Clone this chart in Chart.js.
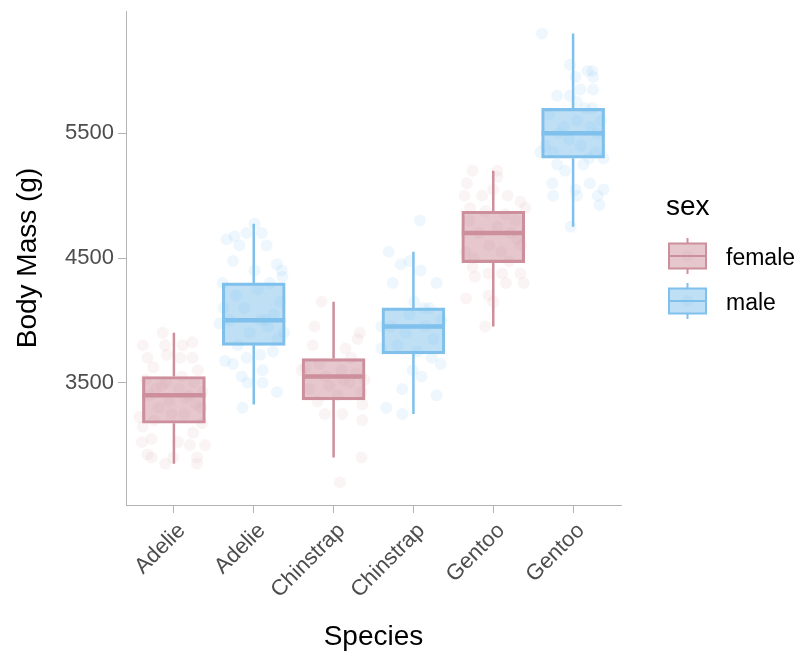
<!DOCTYPE html>
<html>
<head>
<meta charset="utf-8">
<script src="https://cdn.jsdelivr.net/npm/chart.js@4.4.1/dist/chart.umd.min.js"></script>
<style>
  body { margin: 0; background: #fff; }
  #wrap { width: 798px; height: 654px; }
</style>
</head>
<body>
<div id="wrap"><canvas id="massChart" width="798" height="654"></canvas></div>
<script>
// species / sex groups, left to right
var categories = ['Adelie', 'Adelie', 'Chinstrap', 'Chinstrap', 'Gentoo', 'Gentoo'];
var groupSex = ['female', 'male', 'female', 'male', 'female', 'male'];
var sexLabels = ['female', 'male'];

// box statistics (g)
var lowerWhisker = [2850, 3325, 2900, 3250, 3950, 4750];
var q1 = [3175, 3800, 3362.5, 3731.25, 4462.5, 5300];
var median = [3400, 4000, 3550, 3950, 4700, 5500];
var q3 = [3550, 4300, 3693.75, 4100, 4875, 5700];
var upperWhisker = [3900, 4775, 4150, 4550, 5200, 6300];

var yTicks = [3500, 4500, 5500];

// individual penguins (g) and their horizontal jitter
var adelieFemaleMass = [3800, 3900, 3825, 3800, 3800, 3700, 3725, 3700, 3625, 3600, 3700, 3150, 3050, 3025, 3025, 3000, 3000, 2925, 2900, 2850, 2900, 2900, 2850, 3100, 3425, 3225, 3175,
  3200, 3250, 3300, 3325, 3350, 3400, 3400, 3450, 3475, 3500, 3525, 3550, 3300, 3450, 3250, 3375, 3500];
var adelieFemaleJitter = [-0.39, -0.14, 0.23, 0.11, -0.11, -0.33, -0.09, 0.23, -0.26, 0.30, 0.08, -0.39, -0.28, -0.40, 0.05, 0.20, 0.39, -0.33, -0.28, -0.11, -0.01, 0.29, 0.29, 0.24, 0.36, -0.43, 0.35,
  -0.25, 0.13, -0.19, 0.28, -0.06, 0.19, -0.31, 0.06, -0.15, 0.25, -0.35, 0.10, 0.34, -0.23, -0.03, 0.15, -0.10];

var adelieMaleMass = [4775, 4650, 4675, 4700, 4700, 4600, 4600, 4475, 4450, 4400, 4350, 4400, 4300, 3675, 3650, 3700, 3550, 3600, 3500, 3500, 3425, 3300, 3975, 3750, 3725,
  3800, 3850, 3900, 3950, 4000, 4000, 4050, 4100, 4150, 4200, 4250, 4300, 3900, 4100, 4000];
var adelieMaleJitter = [0.01, -0.34, -0.24, -0.09, 0.10, -0.18, 0.16, -0.26, 0.29, 0.35, 0.36, 0.01, -0.39, -0.36, -0.26, -0.09, -0.15, 0.11, -0.08, 0.11, 0.29, -0.14, -0.43, 0.24, 0.08,
  -0.20, 0.30, -0.05, 0.18, -0.30, 0.08, 0.25, -0.12, 0.33, -0.22, 0.05, 0.20, 0.38, -0.38, 0.15];

var chinstrapFemaleMass = [4150, 3950, 3900, 3850, 3800, 3775, 3600, 3525, 3425, 3325, 3250, 3250, 3200, 2900, 2700, 3350,
  3400, 3450, 3500, 3550, 3575, 3600, 3650, 3700, 3475, 3525, 3625];
var chinstrapFemaleJitter = [-0.15, -0.24, 0.33, 0.30, -0.26, 0.15, -0.40, 0.39, 0.35, 0.36, -0.11, 0.11, 0.36, 0.35, 0.08, -0.20,
  0.05, -0.30, 0.20, -0.10, 0.28, 0.10, -0.18, 0.22, -0.05, 0.12, -0.35];

var chinstrapMaleMass = [4800, 4550, 4450, 4475, 4400, 4300, 4300, 4150, 4100, 3650, 3600, 3550, 3450, 3400, 3300, 3250, 3700, 3950, 3775,
  3750, 3800, 3850, 3900, 3950, 3950, 4000, 4050, 4100];
var chinstrapMaleJitter = [0.08, -0.31, -0.16, -0.05, 0.09, -0.26, 0.29, 0.01, 0.13, 0.34, -0.01, 0.10, -0.14, 0.29, -0.34, -0.14, 0.23, -0.40, -0.40,
  0.05, -0.20, 0.25, -0.10, 0.15, -0.28, 0.35, -0.05, 0.20];

var gentooFemaleMass = [5200, 5200, 5150, 5100, 5050, 5000, 5000, 5000, 4950, 4900, 4900, 4425, 4350, 4375, 4375, 4375, 4300, 4300, 4175, 4200, 4150, 3950,
  4475, 4500, 4550, 4600, 4650, 4700, 4700, 4750, 4800, 4850, 4875, 4600, 4800, 4550];
var gentooFemaleJitter = [-0.26, 0.05, 0.05, -0.33, 0.00, -0.36, -0.14, 0.18, 0.34, 0.40, -0.29, -0.26, -0.23, -0.06, 0.11, 0.34, 0.16, 0.38, -0.34, -0.06, 0.00, -0.10,
  0.20, -0.25, 0.10, -0.05, 0.30, -0.18, 0.22, 0.05, -0.30, 0.15, -0.10, 0.35, 0.28, -0.35];

var gentooMaleMass = [6300, 6050, 6000, 6000, 5950, 5950, 5850, 5850, 5800, 5800, 5750, 5700, 5100, 5000, 5050, 5000, 5100, 5050, 5000, 4925, 4750, 5250, 5200, 5300, 5350, 5250,
  5300, 5350, 5400, 5450, 5500, 5500, 5550, 5600, 5650, 5700, 5400, 5600, 5350, 5550];
var gentooMaleJitter = [-0.39, -0.04, 0.18, 0.24, 0.03, 0.25, 0.09, 0.25, -0.20, -0.04, 0.05, 0.24, -0.26, -0.25, 0.03, 0.05, 0.21, 0.38, 0.31, 0.33, -0.03, -0.20, -0.10, 0.38, -0.41, 0.13,
  0.20, -0.25, 0.10, -0.05, 0.30, -0.18, 0.22, 0.05, -0.30, 0.15, -0.35, 0.35, 0.28, -0.12];

var massByGroup = [adelieFemaleMass, adelieMaleMass, chinstrapFemaleMass, chinstrapMaleMass, gentooFemaleMass, gentooMaleMass];
var jitterByGroup = [adelieFemaleJitter, adelieMaleJitter, chinstrapFemaleJitter, chinstrapMaleJitter, gentooFemaleJitter, gentooMaleJitter];

var sexColors = {
    female: { line: 'rgb(205, 143, 156)', fill: 'rgba(205, 143, 156, 0.5)', point: 'rgba(205, 143, 156, 0.1)' },
    male: { line: 'rgb(127, 192, 236)', fill: 'rgba(127, 192, 236, 0.5)', point: 'rgba(127, 192, 236, 0.13)' }
};

var FONT = "'Liberation Sans', Arial, sans-serif";

function boxData(sex) {
    var out = [];
    categories.forEach(function(c, g) {
        if (groupSex[g] === sex) out.push({ x: g + 1, y: [q1[g], q3[g]], group: g });
    });
    return out;
}

function pointData(sex) {
    var out = [];
    massByGroup.forEach(function(masses, g) {
        if (groupSex[g] !== sex) return;
        masses.forEach(function(m, i) {
            out.push({ x: g + 1 + jitterByGroup[g][i], y: m });
        });
    });
    return out;
}

// whiskers and median bars on top of the floating bars
var boxExtras = {
    id: 'boxExtras',
    afterDatasetsDraw: function(chart) {
        var ctx = chart.ctx;
        var yScale = chart.scales.y;
        chart.data.datasets.forEach(function(ds, di) {
            if (ds.type !== 'bar') return;
            var meta = chart.getDatasetMeta(di);
            meta.data.forEach(function(bar, i) {
                var g = ds.data[i].group;
                var col = sexColors[groupSex[g]].line;
                ctx.save();
                ctx.strokeStyle = col;
                ctx.lineCap = 'butt';
                ctx.lineWidth = 2.5;
                ctx.beginPath();
                ctx.moveTo(bar.x, yScale.getPixelForValue(q3[g]));
                ctx.lineTo(bar.x, yScale.getPixelForValue(upperWhisker[g]));
                ctx.moveTo(bar.x, yScale.getPixelForValue(q1[g]));
                ctx.lineTo(bar.x, yScale.getPixelForValue(lowerWhisker[g]));
                ctx.stroke();
                ctx.lineWidth = 4.5;
                ctx.beginPath();
                var ym = yScale.getPixelForValue(median[g]);
                ctx.moveTo(bar.x - bar.width / 2, ym);
                ctx.lineTo(bar.x + bar.width / 2, ym);
                ctx.stroke();
                ctx.restore();
            });
        });
    }
};

// legend with small box glyphs to the right of the plot
var boxLegend = {
    id: 'boxLegend',
    afterDraw: function(chart) {
        var ctx = chart.ctx;
        ctx.save();
        ctx.fillStyle = '#000';
        ctx.textBaseline = 'alphabetic';
        ctx.font = '28px ' + FONT;
        ctx.fillText('sex', 666, 215);
        sexLabels.forEach(function(sex, i) {
            var cy = 256 + i * 45;
            var c = sexColors[sex];
            var left = 669, w = 37, h = 25;
            ctx.fillStyle = c.point;
            ctx.beginPath();
            ctx.arc(left + w / 2, cy, 6, 0, Math.PI * 2);
            ctx.fill();
            ctx.fillStyle = c.fill;
            ctx.fillRect(left, cy - h / 2, w, h);
            ctx.strokeStyle = c.line;
            ctx.lineWidth = 2;
            ctx.strokeRect(left, cy - h / 2, w, h);
            ctx.beginPath();
            ctx.moveTo(left + w / 2, cy - h / 2);
            ctx.lineTo(left + w / 2, cy - 18);
            ctx.moveTo(left + w / 2, cy + h / 2);
            ctx.lineTo(left + w / 2, cy + 18);
            ctx.moveTo(left, cy);
            ctx.lineTo(left + w, cy);
            ctx.stroke();
            ctx.fillStyle = '#000';
            ctx.font = '23px ' + FONT;
            ctx.fillText(sex, 726, cy + 9);
        });
        ctx.restore();
    }
};

var ctx = document.getElementById('massChart').getContext('2d');

new Chart(ctx, {
    type: 'bar',
    data: {
        datasets: [{
            type: 'scatter',
            data: pointData('female'),
            pointRadius: 6,
            pointHoverRadius: 6,
            pointBorderWidth: 0,
            pointBackgroundColor: sexColors.female.point,
            order: 1
        }, {
            type: 'scatter',
            data: pointData('male'),
            pointRadius: 6,
            pointHoverRadius: 6,
            pointBorderWidth: 0,
            pointBackgroundColor: sexColors.male.point,
            order: 1
        }, {
            type: 'bar',
            data: boxData('female'),
            backgroundColor: sexColors.female.fill,
            borderColor: sexColors.female.line,
            borderWidth: 2.5,
            borderSkipped: false,
            barThickness: 63,
            grouped: false,
            order: 2
        }, {
            type: 'bar',
            data: boxData('male'),
            backgroundColor: sexColors.male.fill,
            borderColor: sexColors.male.line,
            borderWidth: 2.5,
            borderSkipped: false,
            barThickness: 63,
            grouped: false,
            order: 2
        }]
    },
    options: {
        responsive: false,
        animation: false,
        devicePixelRatio: 1,
        layout: { padding: { top: 11, right: 177, left: 0, bottom: 0 } },
        plugins: {
            legend: { display: false },
            tooltip: { enabled: false }
        },
        scales: {
            x: {
                type: 'linear',
                offset: false,
                min: 0.4,
                max: 6.6,
                afterBuildTicks: function(scale) {
                    scale.ticks = categories.map(function(c, i) { return { value: i + 1 }; });
                },
                afterFit: function(scale) {
                    scale.height = 149;
                    scale.paddingLeft = 0;
                    scale.paddingRight = 0;
                },
                ticks: {
                    autoSkip: false,
                    maxRotation: 45,
                    minRotation: 45,
                    padding: 5,
                    labelOffset: 8,
                    color: '#4d4d4d',
                    font: { family: FONT, size: 22 },
                    callback: function(value) { return categories[Math.round(value) - 1]; }
                },
                grid: { offset: false, drawOnChartArea: false, drawTicks: true, tickLength: 8, color: '#b3b3b3' },
                border: { display: true, color: '#b3b3b3', width: 1 },
                title: {
                    display: true,
                    text: 'Species',
                    color: '#000',
                    font: { family: FONT, size: 28 },
                    padding: { top: 0, bottom: 0 }
                }
            },
            y: {
                min: 2520,
                max: 6480,
                afterBuildTicks: function(scale) {
                    scale.ticks = yTicks.map(function(v) { return { value: v }; });
                },
                afterFit: function(scale) {
                    scale.width = 126;
                    scale.paddingTop = 0;
                    scale.paddingBottom = 0;
                },
                ticks: {
                    padding: 4,
                    color: '#4d4d4d',
                    font: { family: FONT, size: 22 },
                    callback: function(value) { return String(value); }
                },
                grid: { drawOnChartArea: false, drawTicks: true, tickLength: 8, color: '#b3b3b3' },
                border: { display: true, color: '#b3b3b3', width: 1 },
                title: {
                    display: true,
                    text: 'Body Mass (g)',
                    color: '#000',
                    font: { family: FONT, size: 28 },
                    padding: { top: 11, bottom: 0 }
                }
            }
        }
    },
    plugins: [boxExtras, boxLegend]
});
</script>
</body>
</html>
